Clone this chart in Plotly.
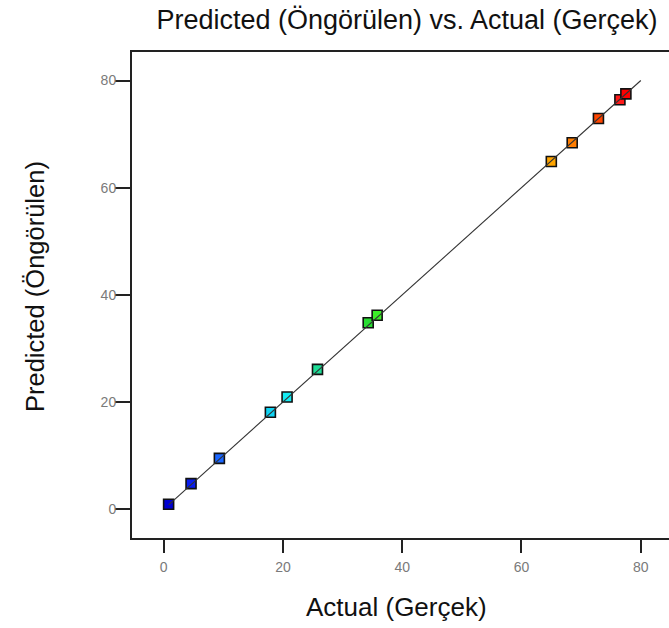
import plotly.graph_objects as go

# Observed (actual) and model-predicted responses
actual = [0.84, 4.6, 9.35, 17.9, 20.7, 25.8, 34.3, 35.8, 65.0, 68.5, 72.9, 76.5, 77.5]
predicted = [0.94, 4.8, 9.5, 18.1, 20.95, 26.1, 34.8, 36.2, 64.9, 68.4, 72.9, 76.4, 77.5]

# Point colours run blue -> cyan -> green -> orange -> red with the response level
point_colors = ["#0000d2", "#0a1ef0", "#1a66ff", "#10d4f4", "#14ecf4", "#1edc96",
                "#28dc32", "#3cf028", "#ffa500", "#ff7d00", "#ff4600", "#ff1a1a", "#ff0000"]

# Ideal-fit reference line (Predicted = Actual)
fit_x = [0.84, 80]
fit_y = [0.84, 80]

tick_vals = [0, 20, 40, 60, 80]
title_text = "Predicted (Öngörülen) vs. Actual (Gerçek)"
x_title = "Actual (Gerçek)"
y_title = "Predicted (Öngörülen)"

font_family = "Liberation Sans, Arial, sans-serif"

fig = go.Figure()
fig.add_trace(go.Scatter(
    x=actual, y=predicted, mode="markers",
    marker=dict(symbol="square", size=10, color=point_colors,
                line=dict(color="#111111", width=1.6)),
    showlegend=False, hoverinfo="x+y",
))
fig.add_trace(go.Scatter(
    x=fit_x, y=fit_y, mode="lines",
    line=dict(color="#333333", width=1.1),
    showlegend=False, hoverinfo="skip",
))

axis_common = dict(
    tickvals=tick_vals, ticks="outside", tickcolor="#222222", tickwidth=2,
    showgrid=False, zeroline=False, showline=True, linecolor="#222222", linewidth=2,
    tickfont=dict(family=font_family, size=14, color="#7a7a7a"),
)

fig.update_layout(
    width=669, height=628,
    margin=dict(l=132, r=0, t=52, b=90),
    paper_bgcolor="white", plot_bgcolor="white",
    font=dict(family=font_family),
    title=dict(text=title_text, x=407 / 669, xref="container", xanchor="center",
               y=1 - 20 / 628, yref="container", yanchor="middle",
               font=dict(family=font_family, size=27, color="#111111")),
    xaxis=dict(range=[-5.3, 84.73], mirror=True, ticklen=13, ticklabelstandoff=2,
               **axis_common),
    yaxis=dict(range=[-5.35, 85.32], mirror=False, ticklen=15, ticklabelstandoff=-4,
               **axis_common),
    annotations=[
        dict(text=x_title, xref="paper", yref="paper", x=(396 - 132) / 537,
             y=(538 - 607) / 486, xanchor="center", yanchor="middle", showarrow=False,
             font=dict(family=font_family, size=26, color="#111111")),
        dict(text=y_title, xref="paper", yref="paper", x=(35 - 132) / 537,
             y=(538 - 287) / 486, xanchor="center", yanchor="middle", showarrow=False,
             textangle=-90, font=dict(family=font_family, size=25.5, color="#111111")),
    ],
)

fig.write_html("out.html")
